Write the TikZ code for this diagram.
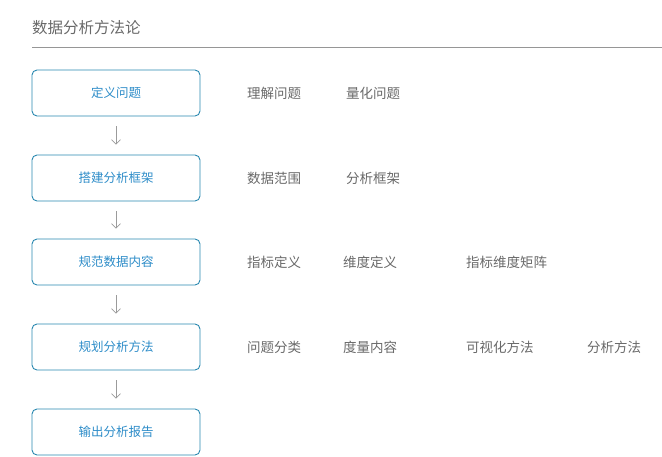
\documentclass[tikz,border=0pt]{standalone}
\usepackage{fontspec}
\setmainfont{Noto Sans CJK SC}
\usetikzlibrary{arrows.meta}
\definecolor{boxline}{RGB}{40,135,175}
\definecolor{boxtext}{RGB}{45,140,200}
\definecolor{labeltext}{RGB}{105,105,105}
\definecolor{titletext}{RGB}{105,105,105}
\definecolor{rulegray}{RGB}{150,150,150}
\definecolor{arrowgray}{RGB}{155,155,155}
\tikzset{
  stepbox/.style={draw=boxline, line width=0.9pt, rounded corners=5pt, minimum width=168pt, minimum height=46pt, inner sep=0pt, text=boxtext, font=\fontsize{12.5}{14}\selectfont},
  lbl/.style={anchor=west, inner sep=0pt, text=labeltext, font=\fontsize{13.5}{15}\selectfont},
  flow/.style={draw=arrowgray, line width=0.6pt, -{Straight Barb[length=4.5pt,width=9pt]}}
}
\begin{document}
\begin{tikzpicture}[x=1pt,y=-1pt]
\useasboundingbox (0,0) rectangle (662,456);
\node[anchor=west, inner sep=0pt, text=titletext, font=\fontsize{15.5}{17}\selectfont] (title) at (32,28) {数据分析方法论};
\coordinate (r1) at (32,47);
\coordinate (r2) at (662,47);
\draw[rulegray, line width=0.8pt] (r1) -- (r2);

\node[stepbox] (b1) at (116,93) {定义问题};
\node[stepbox] (b2) at (116,178) {搭建分析框架};
\node[stepbox] (b3) at (116,262) {规范数据内容};
\node[stepbox] (b4) at (116,347) {规划分析方法};
\node[stepbox] (b5) at (116,432) {输出分析报告};

\foreach \a/\b in {b1/b2,b2/b3,b3/b4,b4/b5}{
  \draw[flow] ([yshift=-10pt]\a.south) -- ([yshift=10pt]\b.north);
}

\node[lbl] (l11) at (247,93) {理解问题};
\node[lbl] (l12) at (346,93) {量化问题};
\node[lbl] (l21) at (247,178) {数据范围};
\node[lbl] (l22) at (346,178) {分析框架};
\node[lbl] (l31) at (247,262) {指标定义};
\node[lbl] (l32) at (343,262) {维度定义};
\node[lbl] (l33) at (466,262) {指标维度矩阵};
\node[lbl] (l41) at (247,347) {问题分类};
\node[lbl] (l42) at (343,347) {度量内容};
\node[lbl] (l43) at (466,347) {可视化方法};
\node[lbl] (l44) at (587,347) {分析方法};
\end{tikzpicture}
\end{document}
